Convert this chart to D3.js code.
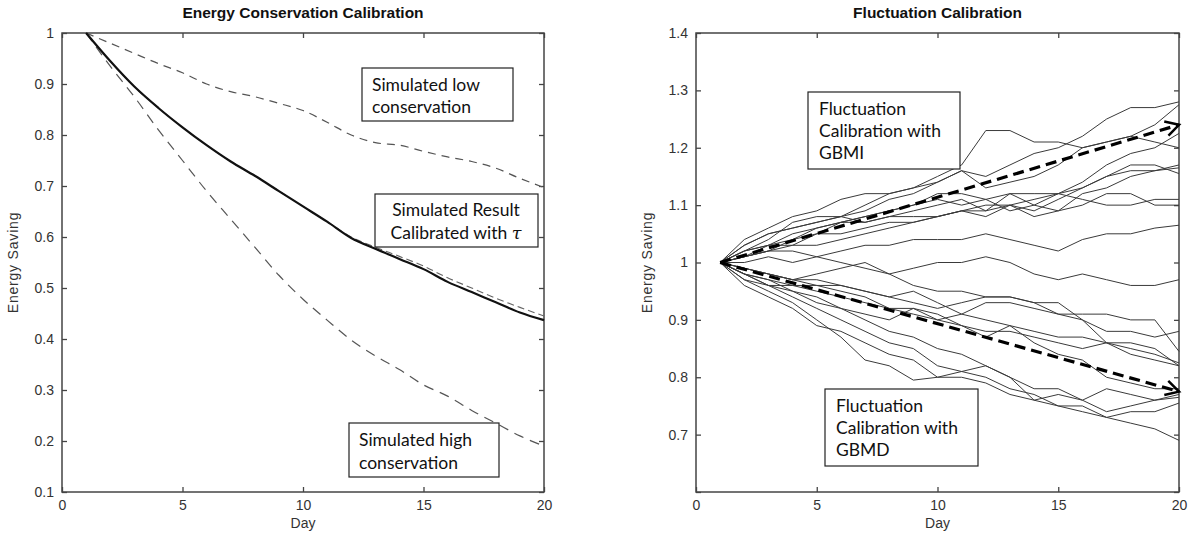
<!DOCTYPE html>
<html>
<head>
<meta charset="utf-8">
<script src="https://cdn.jsdelivr.net/npm/d3@7"></script>
<style>
  body { margin: 0; background: #fff; }
  .tick text { font-family: "Liberation Sans", Arial, sans-serif; font-size: 14px; fill: #333; }
  .lbl { font-family: "Liberation Sans", Arial, sans-serif; font-size: 14px; fill: #333; }
  .ylbl { letter-spacing: 0.8px; }
  .ttl { font-family: "Liberation Sans", Arial, sans-serif; font-size: 15.5px; font-weight: bold; fill: #111; }
  .note { font-family: Lato, "Open Sans", sans-serif; font-size: 17.5px; fill: #111; }
</style>
</head>
<body>
<svg id="chart" width="1193" height="538"></svg>
<script>
// ---- data ----
var days = d3.range(1, 21);

// left panel
var lowCons  = [1,0.98,0.96,0.94,0.922,0.90,0.885,0.875,0.862,0.848,0.825,0.80,0.785,0.78,0.768,0.757,0.748,0.735,0.715,0.697];
var calib    = [1,0.945,0.895,0.853,0.815,0.78,0.748,0.72,0.69,0.66,0.63,0.598,0.577,0.557,0.537,0.512,0.492,0.472,0.452,0.437];
var calibSim = [1,0.945,0.895,0.853,0.815,0.78,0.748,0.72,0.69,0.66,0.63,0.60,0.58,0.562,0.543,0.52,0.50,0.48,0.462,0.445];
var highCons = [1,0.935,0.875,0.81,0.75,0.69,0.635,0.58,0.525,0.478,0.437,0.398,0.367,0.34,0.31,0.288,0.26,0.235,0.21,0.19];

// right panel: simulated paths
var paths = [
  [1,1.03,1.05,1.06,1.07,1.08,1.10,1.12,1.13,1.14,1.16,1.15,1.17,1.19,1.20,1.22,1.25,1.27,1.27,1.28],
  [1,1.04,1.06,1.08,1.09,1.11,1.12,1.12,1.13,1.15,1.17,1.23,1.23,1.21,1.21,1.20,1.21,1.22,1.21,1.20],
  [1,1.02,1.04,1.07,1.08,1.08,1.09,1.11,1.12,1.14,1.16,1.13,1.14,1.15,1.17,1.20,1.21,1.22,1.24,1.275],
  [1,1.01,1.03,1.05,1.06,1.07,1.08,1.09,1.10,1.11,1.10,1.11,1.12,1.12,1.12,1.14,1.17,1.19,1.20,1.225],
  [1,1.03,1.05,1.06,1.07,1.08,1.07,1.08,1.09,1.10,1.11,1.09,1.10,1.11,1.12,1.13,1.15,1.16,1.16,1.17],
  [1,1.02,1.03,1.04,1.06,1.07,1.07,1.08,1.08,1.08,1.09,1.09,1.12,1.10,1.09,1.12,1.13,1.15,1.16,1.165],
  [1,1.01,1.02,1.04,1.05,1.05,1.06,1.07,1.07,1.08,1.09,1.08,1.10,1.09,1.11,1.13,1.15,1.17,1.17,1.155],
  [1,1.02,1.03,1.03,1.05,1.07,1.08,1.09,1.10,1.12,1.12,1.11,1.09,1.10,1.12,1.11,1.10,1.10,1.11,1.11],
  [1,1.01,1.02,1.03,1.03,1.04,1.05,1.06,1.07,1.08,1.09,1.10,1.10,1.08,1.09,1.10,1.12,1.12,1.10,1.10],
  [1,1.00,1.01,1.00,1.01,1.02,1.03,1.03,1.04,1.04,1.04,1.05,1.04,1.03,1.02,1.04,1.05,1.05,1.06,1.065],
  [1,1.01,1.02,1.02,1.01,1.00,0.99,0.98,0.99,1.00,1.00,1.01,1.00,0.98,0.97,0.98,0.97,0.96,0.96,0.97],
  [1,0.99,0.98,0.97,0.98,0.99,1.00,0.98,0.96,0.95,0.95,0.94,0.94,0.93,0.93,0.90,0.88,0.88,0.87,0.88],
  [1,0.99,0.98,0.97,0.96,0.96,0.95,0.94,0.93,0.92,0.93,0.94,0.94,0.93,0.91,0.91,0.91,0.90,0.90,0.845],
  [1,0.98,0.97,0.96,0.96,0.95,0.94,0.92,0.92,0.91,0.89,0.88,0.88,0.87,0.86,0.85,0.86,0.85,0.84,0.825],
  [1,0.98,0.96,0.96,0.95,0.94,0.93,0.92,0.91,0.90,0.91,0.93,0.93,0.92,0.91,0.90,0.86,0.84,0.83,0.82],
  [1,0.98,0.97,0.95,0.94,0.92,0.91,0.90,0.92,0.90,0.89,0.87,0.89,0.86,0.84,0.83,0.80,0.79,0.78,0.78],
  [1,0.97,0.96,0.95,0.93,0.92,0.90,0.88,0.87,0.85,0.84,0.82,0.80,0.76,0.77,0.76,0.78,0.77,0.76,0.765],
  [1,0.98,0.96,0.94,0.92,0.90,0.88,0.86,0.85,0.82,0.81,0.80,0.78,0.77,0.75,0.75,0.73,0.74,0.74,0.755],
  [1,0.96,0.94,0.92,0.89,0.88,0.86,0.84,0.83,0.80,0.80,0.79,0.77,0.76,0.75,0.74,0.73,0.72,0.71,0.69],
  [1,0.97,0.95,0.93,0.90,0.87,0.83,0.82,0.795,0.80,0.81,0.82,0.80,0.78,0.78,0.76,0.74,0.75,0.76,0.77],
  [1,0.99,0.98,0.97,0.97,0.96,0.95,0.94,0.95,0.93,0.91,0.90,0.89,0.88,0.87,0.87,0.86,0.86,0.85,0.82]
];
var trendUp = [[1, 1.0], [20, 1.24]];
var trendDown = [[1, 1.0], [20, 0.775]];

var xTicks = [0, 5, 10, 15, 20];
var yTicksL = [0.1,0.2,0.3,0.4,0.5,0.6,0.7,0.8,0.9,1];
var yTicksR = [0.6,0.7,0.8,0.9,1,1.1,1.2,1.3,1.4];

var svg = d3.select("#chart");

svg.append("defs").append("marker")
    .attr("id", "chev")
    .attr("viewBox", "0 0 12 12")
    .attr("refX", 10).attr("refY", 6)
    .attr("markerWidth", 5.5).attr("markerHeight", 5.5)
    .attr("markerUnits", "strokeWidth")
    .attr("orient", "auto")
  .append("path")
    .attr("d", "M1,1 L10,6 L1,11")
    .attr("fill", "none")
    .attr("stroke", "#000")
    .attr("stroke-width", 1.7);

function panel(x0, x1, y0, y1, yDomain, yTicks, title, fmtY) {
    var x = d3.scaleLinear().domain([0, 20]).range([x0, x1]);
    var y = d3.scaleLinear().domain(yDomain).range([y1, y0]);
    var g = svg.append("g");

    // inward ticks on all four sides
    var ax = [
        [d3.axisBottom(x).tickValues(xTicks).tickSize(-5).tickFormat(d3.format("d")), "translate(0," + y1 + ")"],
        [d3.axisTop(x).tickValues(xTicks).tickSize(-5).tickFormat(""), "translate(0," + y0 + ")"],
        [d3.axisLeft(y).tickValues(yTicks).tickSize(-5).tickFormat(fmtY), "translate(" + x0 + ",0)"],
        [d3.axisRight(y).tickValues(yTicks).tickSize(-5).tickFormat(""), "translate(" + x1 + ",0)"]
    ];
    ax.forEach(function (a) {
        var ag = g.append("g").attr("transform", a[1]).call(a[0].tickPadding(8));
        ag.select(".domain").remove();
        ag.selectAll(".tick line").attr("stroke", "#444").attr("stroke-width", 1.3);
    });

    g.append("rect")
        .attr("x", x0).attr("y", y0)
        .attr("width", x1 - x0).attr("height", y1 - y0)
        .attr("fill", "none").attr("stroke", "#444").attr("stroke-width", 1.5);

    g.append("text").attr("class", "ttl")
        .attr("x", (x0 + x1) / 2).attr("y", 18)
        .attr("text-anchor", "middle").text(title);
    g.append("text").attr("class", "lbl")
        .attr("x", (x0 + x1) / 2).attr("y", 528)
        .attr("text-anchor", "middle").text("Day");
    g.append("text").attr("class", "lbl ylbl")
        .attr("transform", "translate(" + (x0 - 44) + "," + ((y0 + y1) / 2) + ") rotate(-90)")
        .attr("text-anchor", "middle").text("Energy Saving");

    return {x: x, y: y, g: g};
}

function noteBox(g, bx, by, bw, bh, lines, anchor, tx, lineY) {
    g.append("rect").attr("x", bx).attr("y", by).attr("width", bw).attr("height", bh)
        .attr("fill", "#fff").attr("stroke", "#222").attr("stroke-width", 1.2);
    lines.forEach(function (l, i) {
        var t = g.append("text").attr("class", "note")
            .attr("x", tx).attr("y", lineY[i]).attr("text-anchor", anchor);
        if (typeof l === "string") t.text(l);
        else {
            t.append("tspan").text(l[0]);
            t.append("tspan").attr("font-family", "DejaVu Serif").attr("font-style", "italic").text(l[1]);
        }
    });
}

// ---- left panel ----
var L = panel(62, 544, 33, 492, [0.1, 1], yTicksL, "Energy Conservation Calibration", d3.format("~g"));
var lineL = d3.line().curve(d3.curveMonotoneX)
    .x(function (d, i) { return L.x(days[i]); }).y(function (d) { return L.y(d); });

[[lowCons, "#555", "8,6", 1.2], [highCons, "#555", "10,7", 1.2], [calibSim, "#666", "7,4", 1.1], [calib, "#111", null, 2.2]]
.forEach(function (s) {
    L.g.append("path").datum(s[0]).attr("d", lineL)
        .attr("fill", "none").attr("stroke", s[1]).attr("stroke-width", s[3])
        .attr("stroke-dasharray", s[2]);
});

noteBox(L.g, 362, 68, 151, 53, ["Simulated low", "conservation"], "start", 372, [91, 113]);
noteBox(L.g, 375, 194, 163, 53, ["Simulated Result", ["Calibrated with ", "\u03c4"]], "middle", 456, [216, 239]);
noteBox(L.g, 349, 423, 150, 54, ["Simulated high", "conservation"], "start", 359, [446, 469]);

// ---- right panel ----
var R = panel(696, 1179, 33, 492, [0.6, 1.4], yTicksR, "Fluctuation Calibration",
    function (d) { return d === 0.6 ? "" : d3.format("~g")(d); });
var lineR = d3.line().x(function (d, i) { return R.x(days[i]); }).y(function (d) { return R.y(d); });

R.g.append("g").selectAll("path").data(paths).enter().append("path")
    .attr("d", lineR)
    .attr("fill", "none").attr("stroke", "#3a3a3a").attr("stroke-width", 1);

var lineT = d3.line().x(function (d) { return R.x(d[0]); }).y(function (d) { return R.y(d[1]); });
[trendUp, trendDown].forEach(function (t) {
    R.g.append("path").datum(t).attr("d", lineT)
        .attr("fill", "none").attr("stroke", "#000").attr("stroke-width", 3.2)
        .attr("stroke-dasharray", "11,6").attr("marker-end", "url(#chev)");
});

noteBox(R.g, 808, 92, 152, 77, ["Fluctuation", "Calibration with", "GBMI"], "start", 819, [115, 137, 159]);
noteBox(R.g, 825, 389, 153, 77, ["Fluctuation", "Calibration with", "GBMD"], "start", 836, [412, 434, 456]);
</script>
</body>
</html>
